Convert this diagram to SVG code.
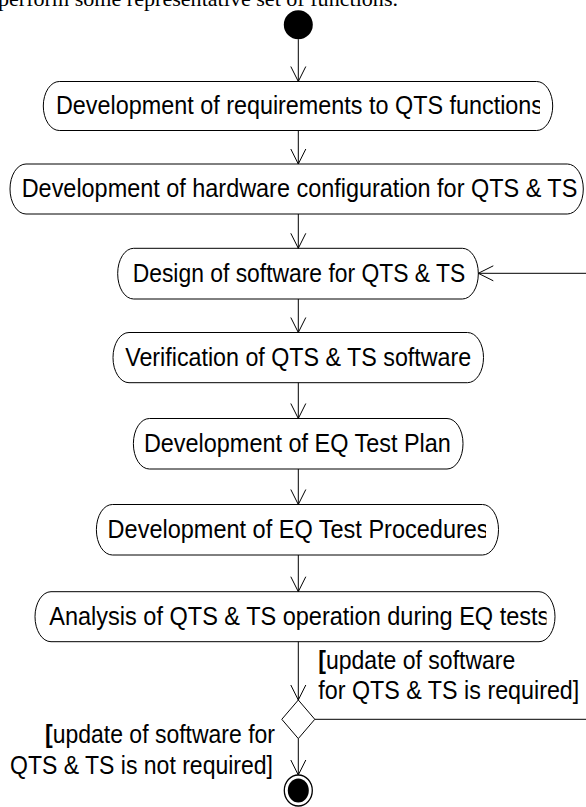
<svg xmlns="http://www.w3.org/2000/svg" width="586" height="807" viewBox="0 0 586 807">
<style>
.box{fill:#fff;stroke:#000;stroke-width:1}
.t{font-family:"Liberation Sans",Arial,sans-serif;font-size:25.5px;fill:#000}
.conn{fill:none;stroke:#000;stroke-width:1}
.br{font-weight:bold}
.page{font-family:"Liberation Serif","Times New Roman",serif;font-size:22px;fill:#000}
</style>
<defs>
<marker id="open" markerUnits="userSpaceOnUse" markerWidth="17" markerHeight="17" refX="15" refY="7.5" orient="auto" overflow="visible">
<path d="M0,0 L15,7.5 L0,15" fill="none" stroke="#000" stroke-width="1"/>
</marker>
<clipPath id="c1"><rect x="0" y="0" width="540" height="807"/></clipPath>
<clipPath id="c6"><rect x="0" y="0" width="486" height="807"/></clipPath>
<clipPath id="c7"><rect x="0" y="0" width="546.5" height="807"/></clipPath>
</defs>
<rect width="586" height="807" fill="#fff"/>
<text class="page" x="-2" y="6" textLength="400" lengthAdjust="spacingAndGlyphs">perform some representative set of functions.</text>

<g id="start"><circle cx="298.3" cy="24.7" r="14.5" fill="#000"/></g>

<g id="n1">
<rect class="box" x="43.3" y="81.5" width="509.4" height="49" rx="16" ry="24.5"/>
<text class="t" x="56" y="114" textLength="487" lengthAdjust="spacingAndGlyphs" clip-path="url(#c1)">Development of requirements to QTS functions</text>
</g>
<g id="n2">
<rect class="box" x="10" y="164" width="573.3" height="50" rx="16" ry="25"/>
<text class="t" x="21.7" y="197" textLength="555.6" lengthAdjust="spacingAndGlyphs">Development of hardware configuration for QTS &amp; TS</text>
</g>
<g id="n3">
<rect class="box" x="117.7" y="248.3" width="360.6" height="50.7" rx="16" ry="25"/>
<text class="t" x="132.7" y="281.7" textLength="332.5" lengthAdjust="spacingAndGlyphs">Design of software for QTS &amp; TS</text>
</g>
<g id="n4">
<rect class="box" x="113" y="332.5" width="370.5" height="50.2" rx="16" ry="25"/>
<text class="t" x="125.2" y="365.6" textLength="346" lengthAdjust="spacingAndGlyphs">Verification of QTS &amp; TS software</text>
</g>
<g id="n5">
<rect class="box" x="133.4" y="418.5" width="329.6" height="50.5" rx="16" ry="25"/>
<text class="t" x="143.9" y="451.7" textLength="307" lengthAdjust="spacingAndGlyphs">Development of EQ Test Plan</text>
</g>
<g id="n6">
<rect class="box" x="96.4" y="504.5" width="402.1" height="50.5" rx="16" ry="25"/>
<text class="t" x="107.6" y="537.7" textLength="381" lengthAdjust="spacingAndGlyphs" clip-path="url(#c6)">Development of EQ Test Procedures</text>
</g>
<g id="n7">
<rect class="box" x="35" y="591.7" width="520" height="50" rx="16" ry="25"/>
<text class="t" x="49.3" y="624.7" textLength="500" lengthAdjust="spacingAndGlyphs" clip-path="url(#c7)">Analysis of QTS &amp; TS operation during EQ tests</text>
</g>
<g id="decision">
<polygon class="box" points="298.3,700 314.8,719.3 298.3,738.6 281.8,719.3"/>
</g>
<g id="end">
<ellipse cx="298.3" cy="790.5" rx="14" ry="15.5" fill="#fff" stroke="#000" stroke-width="1.3"/>
<ellipse cx="298.3" cy="790.5" rx="10.5" ry="12" fill="#000"/>
</g>

<g id="connectors">
<path class="conn" d="M298.3,39.2 V81.5" marker-end="url(#open)"/>
<path class="conn" d="M298.3,130.5 V164" marker-end="url(#open)"/>
<path class="conn" d="M298.3,214 V248.3" marker-end="url(#open)"/>
<path class="conn" d="M298.3,299 V332.5" marker-end="url(#open)"/>
<path class="conn" d="M298.3,382.7 V418.5" marker-end="url(#open)"/>
<path class="conn" d="M298.3,469 V504.5" marker-end="url(#open)"/>
<path class="conn" d="M298.3,555 V591.7" marker-end="url(#open)"/>
<path class="conn" d="M298.3,641.7 V700" marker-end="url(#open)"/>
<path class="conn" d="M298.3,738.6 V775" marker-end="url(#open)"/>
<path class="conn" d="M314.8,719.3 H620 V273.3 H478.3" marker-end="url(#open)"/>
</g>

<g id="guards">
<text class="t" x="318.3" y="669" textLength="197" lengthAdjust="spacingAndGlyphs"><tspan class="br">[</tspan>update of software</text>
<text class="t" x="318.3" y="699" textLength="261" lengthAdjust="spacingAndGlyphs">for QTS &amp; TS is required]</text>
<text class="t" x="45" y="743" textLength="230" lengthAdjust="spacingAndGlyphs"><tspan class="br">[</tspan>update of software for</text>
<text class="t" x="10" y="774" textLength="263" lengthAdjust="spacingAndGlyphs">QTS &amp; TS is not required]</text>
</g>
</svg>
